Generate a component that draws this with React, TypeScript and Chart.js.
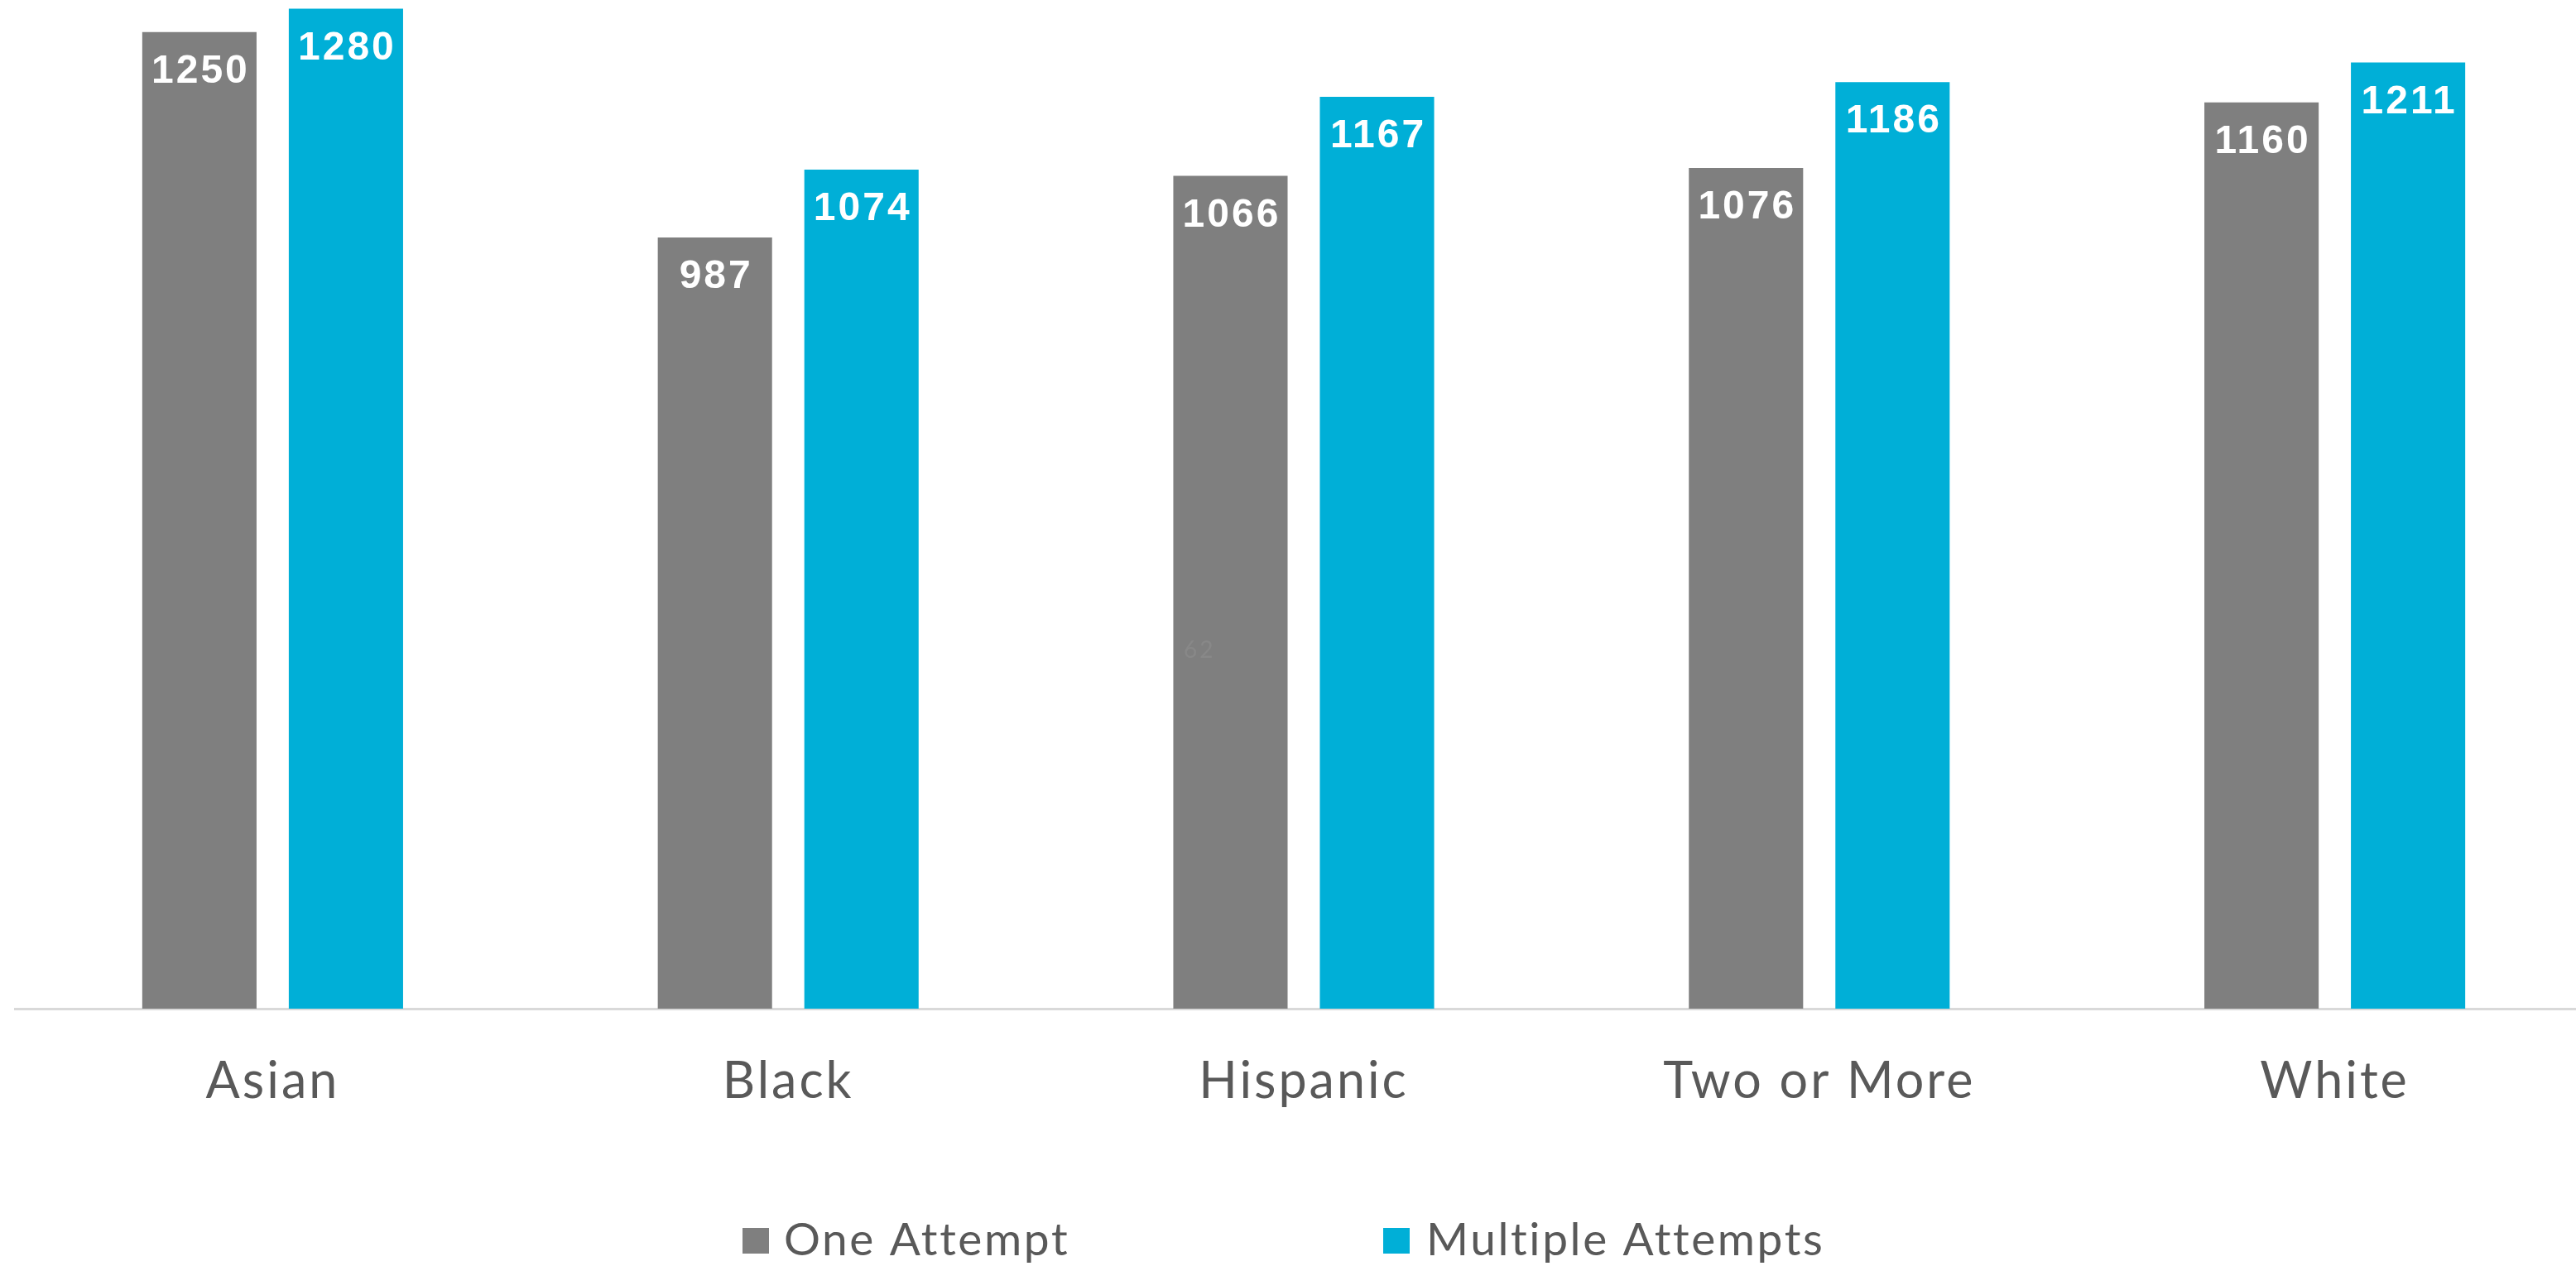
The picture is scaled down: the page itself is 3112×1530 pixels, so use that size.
import React, { useEffect, useRef } from 'react';
import { Chart, registerables } from 'chart.js';

Chart.register(...registerables);

const categories = ['Asian', 'Black', 'Hispanic', 'Two or More', 'White'];
const oneAttempt = [1250, 987, 1066, 1076, 1160];
const multipleAttempts = [1280, 1074, 1167, 1186, 1211];
const seriesLabels = ['One Attempt', 'Multiple Attempts'];
const seriesColors = ['#7F7F7F', '#00AFD7'];
const pageNumber = '62';

const CANVAS_W = 3140;
const CANVAS_H = 1530;

const valueLabelsPlugin = {
  id: 'valueLabels',
  afterDatasetsDraw(chart: any) {
    const ctx = chart.ctx;
    ctx.save();
    // faint page number artifact
    ctx.font = '28px Lato, sans-serif';
    ctx.fillStyle = 'rgba(255,255,255,0.07)';
    ctx.textAlign = 'left';
    ctx.textBaseline = 'alphabetic';
    ctx.fillText(pageNumber, 1430, 795);

    ctx.font = 'bold 48px "Liberation Sans", Arial, sans-serif';
    ctx.fillStyle = '#FFFFFF';
    ctx.textAlign = 'center';
    ctx.textBaseline = 'middle';
    try { (ctx as any).letterSpacing = '3px'; } catch (e) {}
    chart.data.datasets.forEach((ds: any, i: number) => {
      const meta = chart.getDatasetMeta(i);
      meta.data.forEach((bar: any, j: number) => {
        ctx.fillText(String(ds.data[j]), bar.x + 1.5, bar.y + 48);
      });
    });
    ctx.restore();
  },
};

const customLegendPlugin = {
  id: 'customLegend',
  afterDraw(chart: any) {
    const ctx = chart.ctx;
    ctx.save();
    const items = [
      { boxX: 897, textX: 947 },
      { boxX: 1671, textX: 1723 },
    ];
    ctx.font = '55px Lato, sans-serif';
    ctx.textAlign = 'left';
    ctx.textBaseline = 'alphabetic';
    try { (ctx as any).letterSpacing = '2.6px'; } catch (e) {}
    chart.data.datasets.forEach((ds: any, i: number) => {
      const it = items[i];
      ctx.fillStyle = ds.backgroundColor;
      ctx.fillRect(it.boxX, 1484, 32, 31);
      ctx.fillStyle = '#595959';
      ctx.fillText(ds.label, it.textX, 1517);
    });
    ctx.restore();
  },
};

const spacingPlugin = {
  id: 'tickSpacing',
  beforeDraw(chart: any) {
    try { (chart.ctx as any).letterSpacing = '3px'; } catch (e) {}
  },
};

export default function App() {
  const ref = useRef<HTMLCanvasElement | null>(null);

  useEffect(() => {
    if (!ref.current) return;
    const chart = new Chart(ref.current, {
      type: 'bar',
      data: {
        labels: categories,
        datasets: [
          { label: seriesLabels[0], data: oneAttempt, backgroundColor: seriesColors[0], borderWidth: 0 },
          { label: seriesLabels[1], data: multipleAttempts, backgroundColor: seriesColors[1], borderWidth: 0 },
        ],
      },
      options: {
        responsive: false,
        animation: false,
        devicePixelRatio: 1,
        layout: { padding: { left: 18, right: 8, top: 0, bottom: 141 } },
        datasets: { bar: { categoryPercentage: 0.5685, barPercentage: 0.78 } } as any,
        plugins: {
          legend: { display: false },
          tooltip: { enabled: false },
        },
        scales: {
          x: {
            grid: { display: false, drawTicks: false },
            border: { display: true, color: '#D9D9D9', width: 3 },
            ticks: {
              font: { family: 'Lato', size: 61 },
              color: '#595959',
              padding: 52,
            },
            afterFit: (s: any) => { s.height = 170; },
          },
          y: { display: false, min: 0, max: 1291 },
        },
      },
      plugins: [spacingPlugin, valueLabelsPlugin, customLegendPlugin],
    });
    return () => chart.destroy();
  }, []);

  return (
    <div style={{ position: 'fixed', left: 0, top: 0, width: 3112, height: 1530, overflow: 'hidden', background: '#FFFFFF' }}>
      <canvas ref={ref} width={CANVAS_W} height={CANVAS_H} style={{ width: CANVAS_W, height: CANVAS_H, display: 'block' }} />
    </div>
  );
}
